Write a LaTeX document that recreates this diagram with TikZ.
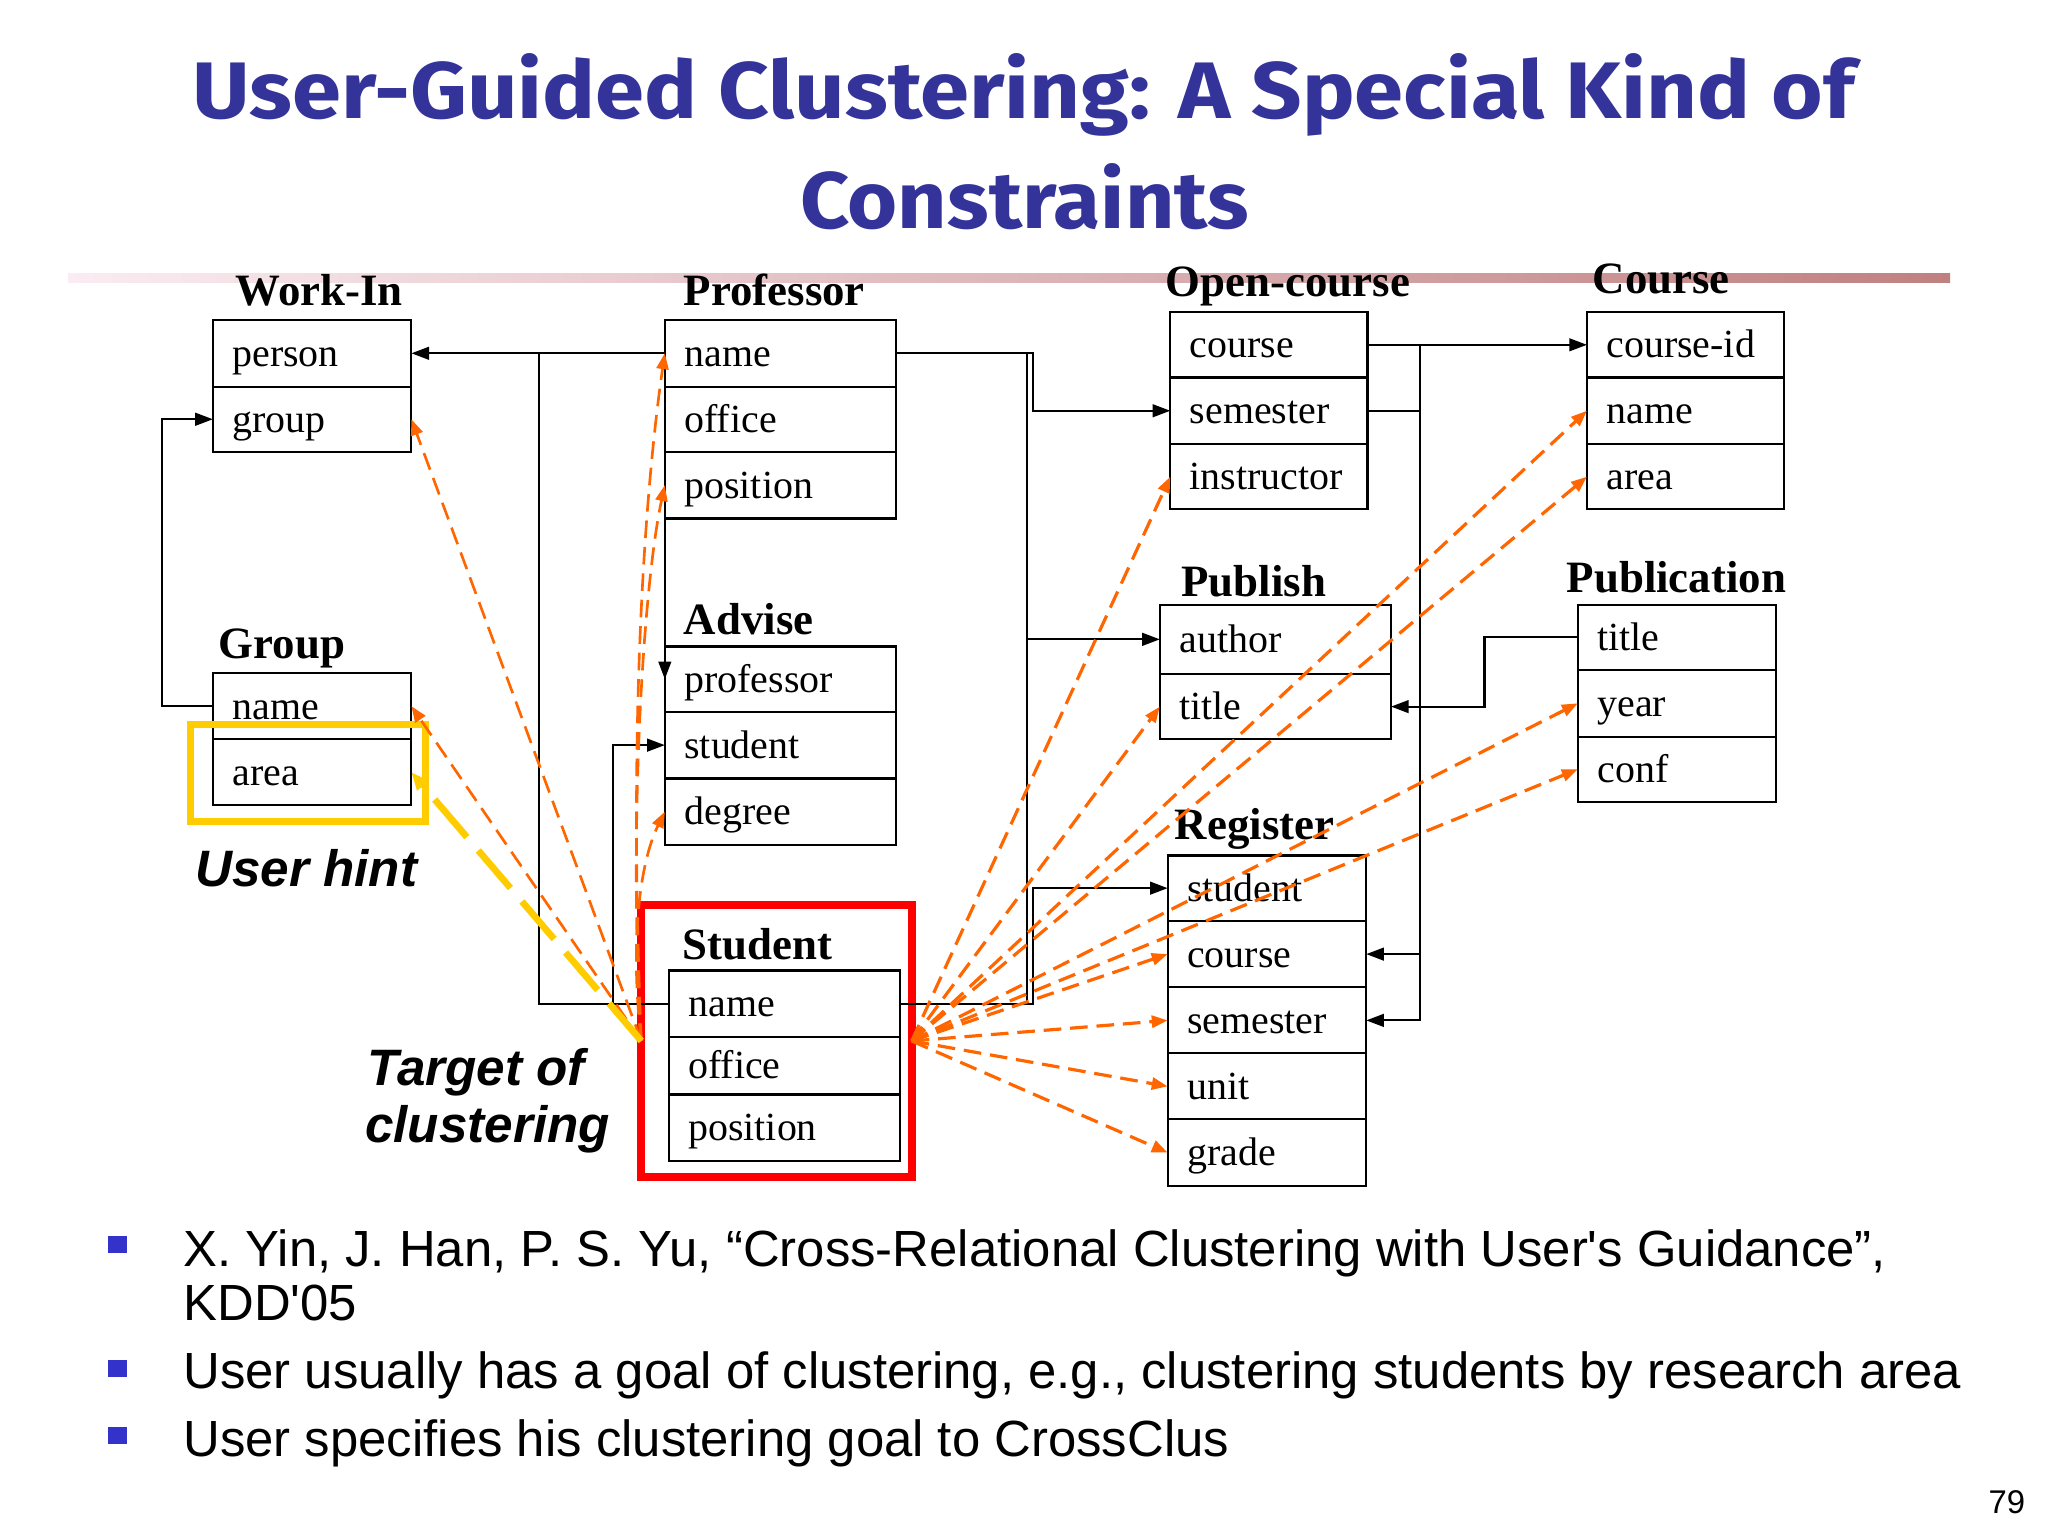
\documentclass[tikz,border=0pt]{standalone}
\usepackage{fontspec}
\setmainfont{Liberation Serif}
\newfontfamily\arialf{Liberation Sans}
\newfontfamily\titlef{Fira Sans}
\usepackage{graphicx}
\usetikzlibrary{arrows.meta}
\definecolor{titleblue}{RGB}{51,51,153}
\definecolor{bulblue}{RGB}{51,51,204}
\definecolor{orng}{RGB}{255,102,0}
\definecolor{yel}{RGB}{255,204,0}
\definecolor{redb}{RGB}{255,0,0}
\definecolor{lineL}{RGB}{250,236,242}
\definecolor{lineR}{RGB}{192,128,128}
\newcommand\tabrow[6]{%
  \pgfmathsetmacro\rwW{(#4-#2-30)*0.013}%
  \pgfmathsetmacro\rwH{(#5-#3)*0.013}%
  \node[rowbox, text width=\rwW cm, minimum height=\rwH cm, anchor=north west] (#1) at (#2,#3) {#6};}
\begin{document}
\begin{tikzpicture}[x=0.013cm,y=-0.013cm,
  rowbox/.style={draw=black, line width=0.6pt, inner xsep=0.195cm, inner ysep=0pt, outer sep=0pt,
    align=left, font=\fontsize{11.3}{13}\selectfont, text height=0.78em, text depth=0.05em},
  hdr/.style={anchor=base west, inner sep=0pt, font=\bfseries\fontsize{12.7}{14}\selectfont},
  conn/.style={line width=0.6pt, -{Triangle[length=5pt,width=3.6pt]}},
  wire/.style={line width=0.6pt},
  oarrL/.style={orng, line width=0.75pt, dash pattern=on 5pt off 2.5pt, -{Triangle[length=4.5pt,width=3.4pt]}},
  oarrR/.style={orng, line width=0.9pt, dash pattern=on 5pt off 2.5pt, -{Triangle[length=4.5pt,width=3.4pt]}},
  yarr/.style={yel, line width=1.9pt, dash pattern=on 14pt off 5pt, -{Triangle[length=5pt,width=4pt]}},
  lbl/.style={anchor=base west, inner sep=0pt, font=\arialf\bfseries\itshape\fontsize{14.5}{17}\selectfont},
  btxt/.style={anchor=base west, inner sep=0pt, font=\arialf\fontsize{14.4}{17}\selectfont},
]
\useasboundingbox (0,0) rectangle (1568,1176);
\fill[white] (0,0) rectangle (1568,1176);

% title
\node[anchor=base west, inner sep=0pt, text=titleblue] (title1) at (147,90.6)
  {\resizebox{16.54cm}{0.647cm}{\titlef\bfseries User-Guided Clustering: A Special Kind of}};
\node[anchor=base west, inner sep=0pt, text=titleblue] (title2) at (612,174.8)
  {\resizebox{4.47cm}{0.647cm}{\titlef\bfseries Constraints}};
\shade[left color=lineL, right color=lineR] (52,209.5) rectangle (1493,216.5);

% headers
\node[hdr] (h-wi) at (180,234) {Work-In};
\node[hdr] (h-pr) at (523,234) {Professor};
\node[hdr] (h-ad) at (523,486) {Advise};
\node[hdr] (h-gr) at (167,504) {Group};
\node[hdr] (h-oc) at (892,227) {Open-course};
\node[hdr] (h-co) at (1219,225) {Course};
\node[hdr] (h-pb) at (904,457) {Publish};
\node[hdr] (h-pn) at (1199,454) {Publication};
\node[hdr] (h-rg) at (899,643) {Register};
\node[hdr] (h-st) at (522,735) {Student};

% tables
\tabrow{wi-person}{163}{245}{315}{296}{person}
\tabrow{wi-group}{163}{296}{315}{346}{group}
\tabrow{pr-name}{509}{245}{686}{296}{name}
\tabrow{pr-office}{509}{296}{686}{346}{office}
\tabrow{pr-position}{509}{346}{686}{397}{position}
\tabrow{ad-professor}{509}{495}{686}{545}{professor}
\tabrow{ad-student}{509}{545}{686}{596}{student}
\tabrow{ad-degree}{509}{596}{686}{647}{degree}
\tabrow{gr-name}{163}{515.5}{315}{566}{name}
\tabrow{gr-area}{163}{566}{315}{616.6}{area}
\tabrow{oc-course}{896}{239}{1047}{289}{course}
\tabrow{oc-semester}{896}{289}{1047}{340}{semester}
\tabrow{oc-instructor}{896}{340}{1047}{390}{instructor}
\tabrow{co-id}{1215}{239}{1366}{289}{course-id}
\tabrow{co-name}{1215}{289}{1366}{340}{name}
\tabrow{co-area}{1215}{340}{1366}{390}{area}
\tabrow{pb-author}{888}{463}{1065}{516}{author}
\tabrow{pb-title}{888}{516}{1065}{566}{title}
\tabrow{pn-title}{1208}{463}{1360}{513}{title}
\tabrow{pn-year}{1208}{513}{1360}{564}{year}
\tabrow{pn-conf}{1208}{564}{1360}{614}{conf}
\tabrow{rg-student}{894}{655}{1046}{705}{student}
\tabrow{rg-course}{894}{705}{1046}{756}{course}
\tabrow{rg-semester}{894}{756}{1046}{806.5}{semester}
\tabrow{rg-unit}{894}{806.5}{1046}{857}{unit}
\tabrow{rg-grade}{894}{857}{1046}{908}{grade}
\tabrow{st-name}{512}{743}{689}{794}{name}
\tabrow{st-office}{512}{794}{689}{838}{office}
\tabrow{st-position}{512}{838}{689}{889}{position}

% red frame
\node[draw=redb, line width=2.2pt, minimum width=2.691cm, minimum height=2.704cm, inner sep=0pt, outer sep=0pt] (sf) at (594.5,797) {};

% black connectors
\coordinate (jA) at (413,270);
\coordinate (jB) at (124,0);
\coordinate (jC) at (791,0);
\coordinate (jD) at (786,0);
\coordinate (jE) at (469.5,0);
\coordinate (jF) at (1087,0);
\coordinate (jG) at (1136.6,0);
\draw[conn] (pr-name.west) -- (wi-person.east);
\draw[wire] (st-name.west) -| (jA);
\draw[conn] (gr-name.west) -- (gr-name.west -| jB) |- (wi-group.west);
\draw[conn] (pr-name.east) -- (pr-name.east -| jC) |- (oc-semester.west);
\draw[conn] (pr-name.east) -- (pr-name.east -| jD) |- (pb-author.west);
\draw[wire] (st-name.east) -| (pb-author.west -| jD);
\draw[conn] (st-name.east) -- (st-name.east -| jC) |- (rg-student.west);
\draw[conn] (pr-position.south west) -- (ad-professor.west);
\draw[conn] (st-name.west) -- (st-name.west -| jE) |- (ad-student.west);
\draw[conn] (oc-course.east) -- (co-id.west);
\draw[conn] (oc-course.east) -- (oc-course.east -| jF) |- (rg-course.east);
\draw[conn] (oc-semester.east) -- (oc-semester.east -| jF) |- (rg-semester.east);
\draw[conn] (pn-title.west) -- (pn-title.west -| jG) |- (pb-title.east);

% user hint frame
\node[draw=yel, line width=2pt, minimum width=2.34cm, minimum height=0.962cm, inner sep=0pt, outer sep=0pt] (uf) at (236,592) {};

% orange dashed arrows, left
\draw[oarrL] (sf.west) -- (wi-group.east);
\draw[oarrL] (sf.west) -- (gr-name.east);
\draw[oarrL] (sf.west) .. controls (481,560) and (493,380) .. (pr-name.west);
\draw[oarrL] (sf.west) .. controls (481,640) and (492,450) .. (pr-position.west);
\draw[oarrL] (sf.west) .. controls (482,720) and (490,660) .. (ad-degree.west);
\draw[yarr] (sf.west) -- (gr-area.east);
% orange dashed arrows, right
\draw[oarrR] (sf.east) -- (oc-instructor.west);
\draw[oarrR] (sf.east) -- (co-name.west);
\draw[oarrR] (sf.east) -- (co-area.west);
\draw[oarrR] (sf.east) -- (pb-title.west);
\draw[oarrR] (sf.east) -- (pn-year.west);
\draw[oarrR] (sf.east) -- (pn-conf.west);
\draw[oarrR] (sf.east) -- (rg-course.west);
\draw[oarrR] (sf.east) -- (rg-semester.west);
\draw[oarrR] (sf.east) -- (rg-unit.west);
\draw[oarrR] (sf.east) -- (rg-grade.west);

% labels
\node[lbl] (uh) at (149,679) {User hint};
\node[lbl] (tg1) at (281,830.8) {Target of};
\node[lbl] (tg2) at (279,875) {clustering};

% bullets
\fill[bulblue] (83,946) rectangle (97,959);
\fill[bulblue] (83,1041) rectangle (97,1054);
\fill[bulblue] (83,1092.5) rectangle (97,1105.5);
\node[btxt] (b1) at (140,969.4) {X. Yin, J. Han, P. S. Yu, “Cross-Relational Clustering with User's Guidance”,};
\node[btxt] (b1b) at (140,1010.7) {KDD'05};
\node[btxt] (b2) at (140,1063) {User usually has a goal of clustering, e.g., clustering students by research area};
\node[btxt] (b3) at (140,1114.8) {User specifies his clustering goal to CrossClus};
\node[anchor=base west, inner sep=0pt, font=\arialf\fontsize{9.3}{11}\selectfont] (pg) at (1522,1158.7) {79};
\end{tikzpicture}
\end{document}
